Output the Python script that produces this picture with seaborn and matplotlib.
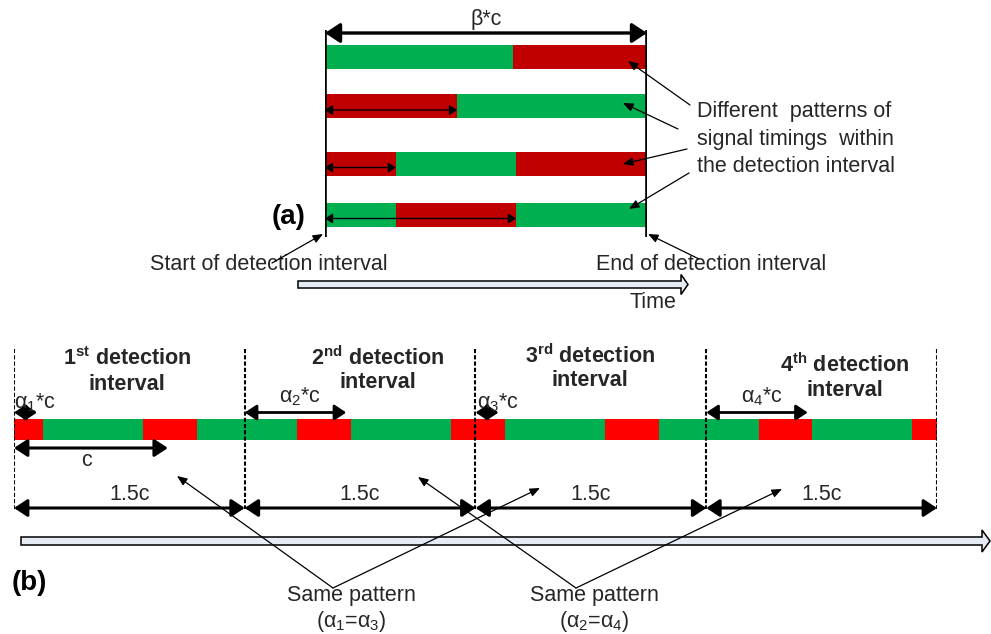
import numpy as np
import matplotlib
matplotlib.use("Agg")
import matplotlib.pyplot as plt
from matplotlib.patches import FancyArrow
import seaborn as sns

# ---------------- data ----------------
GREEN = "#00B050"
DARK_RED = "#C00000"
RED = "#FF0000"

# (a) four signal patterns inside one detection interval, as shares of beta*c
pattern_phases = [["G", "R"], ["R", "G"], ["R", "G", "R"], ["G", "R", "G"]]
pattern_shares = [[0.584, 0.416], [0.41, 0.59], [0.22, 0.373, 0.407], [0.22, 0.373, 0.407]]
pattern_offsets = [None, 0.41, 0.22, 0.593]

# (b) signal timeline, durations in cycle lengths c
timeline_phases = ["R", "G", "R", "G", "R", "G", "R", "G", "R", "G", "R", "G", "R"]
timeline_lengths = [0.19, 0.65, 0.35, 0.65, 0.35, 0.65, 0.35, 0.65, 0.35, 0.65, 0.35, 0.65, 0.16]
interval_length = 1.5          # one detection interval = 1.5c
interval_ordinals = ["1", "2", "3", "4"]
interval_suffixes = ["st", "nd", "rd", "th"]
alpha_offsets = [0.15, 0.66, 0.15, 0.66]   # alpha_k, in units of c

# ---------------- style ----------------
sns.set_theme(style="white")
plt.rcParams["font.family"] = ["Liberation Sans", "DejaVu Sans"]
plt.rcParams["mathtext.fontset"] = "custom"
plt.rcParams["mathtext.rm"] = "Liberation Sans"
plt.rcParams["mathtext.it"] = "Liberation Sans:italic"
plt.rcParams["mathtext.bf"] = "Liberation Sans:bold"
plt.rcParams["mathtext.sf"] = "Liberation Sans"
plt.rcParams["mathtext.default"] = "regular"

TXT = "#262626"
FS = 15.5
W, H = 991, 634

fig = plt.figure(figsize=(W / 100, H / 100), dpi=100)
fig.patch.set_facecolor("white")


def panel_axes(x0_px, x1_px, xmax, z=1):
    ax = fig.add_axes([x0_px / W, 0, (x1_px - x0_px) / W, 1])
    ax.set_xlim(0, xmax)
    ax.set_ylim(H, 0)
    ax.axis("off")
    ax.patch.set_alpha(0)
    ax.set_zorder(z)
    return ax


# overlay in pixel units for free text, pointers and time arrows (drawn on top)
bg = panel_axes(0, W, W, z=10)


def double_arrow(ax, x0, x1, y, lw=2.2, scale=18):
    ax.annotate("", xy=(x1, y), xytext=(x0, y),
                arrowprops=dict(arrowstyle="<|-|>,head_length=0.5,head_width=0.33",
                                color="black", lw=lw, mutation_scale=scale,
                                shrinkA=0, shrinkB=0), annotation_clip=False)


def pointer(ax, tail, tip):
    ax.annotate("", xy=tip, xytext=tail,
                arrowprops=dict(arrowstyle="-|>,head_length=0.6,head_width=0.25",
                                color="black", lw=0.9, mutation_scale=10,
                                shrinkA=0, shrinkB=0), annotation_clip=False)


# ---------------- panel (a) ----------------
colors_a = {"G": GREEN, "R": DARK_RED}
ax_a = panel_axes(325, 647, 1.0, z=2)
row_y = [57, 106, 163.5, 214.5]
for y, phases, shares in zip(row_y, pattern_phases, pattern_shares):
    shares = np.asarray(shares)
    lefts = np.concatenate([[0.0], np.cumsum(shares)[:-1]])
    ax_a.barh(np.full(len(shares), y), shares, left=lefts, height=24,
              color=[colors_a[p] for p in phases], linewidth=0)

ax_a.vlines([0, 1], 30, 237, color="black", lw=2.6)
double_arrow(ax_a, 0, 1, 33, lw=2.4, scale=18)
ax_a.text(0.5, 20, "β*c", ha="center", va="center", fontsize=FS, color=TXT)

for y, off in zip(row_y, pattern_offsets):
    if off is not None:
        double_arrow(ax_a, 0, off, y + 4, lw=1.0, scale=9)

for tail, tip in zip([(690, 105), (678, 129), (687, 149), (689, 173)],
                     [(628, 61), (623, 103), (623, 164), (629, 209)]):
    pointer(bg, tail, tip)

for y, line in zip([112, 139, 166], ["Different  patterns of",
                                     "signal timings  within",
                                     "the detection interval"]):
    bg.text(697, y, line, ha="left", va="center", fontsize=FS, color=TXT)

bg.text(272, 217, "(a)", ha="left", va="center", fontsize=20, fontweight="bold", color="black")
bg.text(150, 265, "Start of detection interval", ha="left", va="center", fontsize=FS, color=TXT)
bg.text(596, 264, "End of detection interval", ha="left", va="center", fontsize=FS, color=TXT)
pointer(bg, (272, 263), (323, 234))
pointer(bg, (699, 259), (648, 234))

bg.add_patch(FancyArrow(298, 284.5, 390, 0, width=7, head_width=20, head_length=7,
                        length_includes_head=True, fc="#E6ECF6", ec="black", lw=1.1))
bg.text(630, 302, "Time", ha="left", va="center", fontsize=FS, color=TXT)

# ---------------- panel (b) ----------------
colors_b = {"G": GREEN, "R": RED}
ax_b = panel_axes(14, 937, 6.0, z=2)
lengths = np.asarray(timeline_lengths)
lefts = np.concatenate([[0.0], np.cumsum(lengths)[:-1]])
ax_b.barh(np.full(len(lengths), 429.5), lengths, left=lefts, height=21,
          color=[colors_b[p] for p in timeline_phases], linewidth=0)

bounds = np.arange(len(interval_ordinals) + 1) * interval_length
ax_b.vlines(bounds, 349, 509, color="black", lw=1.5, linestyles=(0, (2.0, 1.0)), zorder=3)

title_pos = [(127, 359), (378, 358), (590, 356), (845, 365)]
for (x, y), num, suf in zip(title_pos, interval_ordinals, interval_suffixes):
    bg.text(x, y, rf"$\mathbf{{{num}^{{{suf}}}}}$ detection", ha="center", va="center",
            fontsize=FS, fontweight="bold", color=TXT)
    bg.text(x, y + 25, "interval", ha="center", va="center",
            fontsize=FS, fontweight="bold", color=TXT)

alpha_label_pos = [(35, 403), (300, 397), (498, 403), (762, 397)]
for k, (a, (lx, ly)) in enumerate(zip(alpha_offsets, alpha_label_pos)):
    x0 = k * interval_length
    double_arrow(ax_b, x0, x0 + a, 412.5, lw=2.0, scale=14)
    bg.text(lx, ly, rf"$\alpha_{k + 1}$*c", ha="center", va="center", fontsize=FS, color=TXT)

double_arrow(ax_b, 0, 1, 448, lw=2.2, scale=16)
ax_b.text(0.47, 461, "c", ha="center", va="center", fontsize=FS, color=TXT)

for k in range(len(interval_ordinals)):
    x0 = bounds[k]
    double_arrow(ax_b, x0, x0 + interval_length, 508, lw=2.2, scale=16)
    ax_b.text(x0 + interval_length / 2, 495, f"{interval_length}c", ha="center", va="center",
              fontsize=FS, color=TXT)

bg.add_patch(FancyArrow(21, 541, 969, 0, width=8, head_width=22, head_length=8,
                        length_includes_head=True, fc="#E6ECF6", ec="black", lw=1.1))

bg.text(12, 583, "(b)", ha="left", va="center", fontsize=20, fontweight="bold", color="black")

for apex, tips, (cx, pair) in [((333, 588), [(177, 476), (540, 488)], (351, (1, 3))),
                               ((576, 588), [(418, 477), (782, 489)], (594, (2, 4)))]:
    for tip in tips:
        pointer(bg, apex, tip)
    bg.text(cx, 596, "Same pattern", ha="center", va="center", fontsize=FS, color=TXT)
    bg.text(cx, 622, rf"($\alpha_{pair[0]}$=$\alpha_{pair[1]}$)", ha="center", va="center",
            fontsize=FS, color=TXT)

fig.savefig("out.png", dpi=100, facecolor="white")
